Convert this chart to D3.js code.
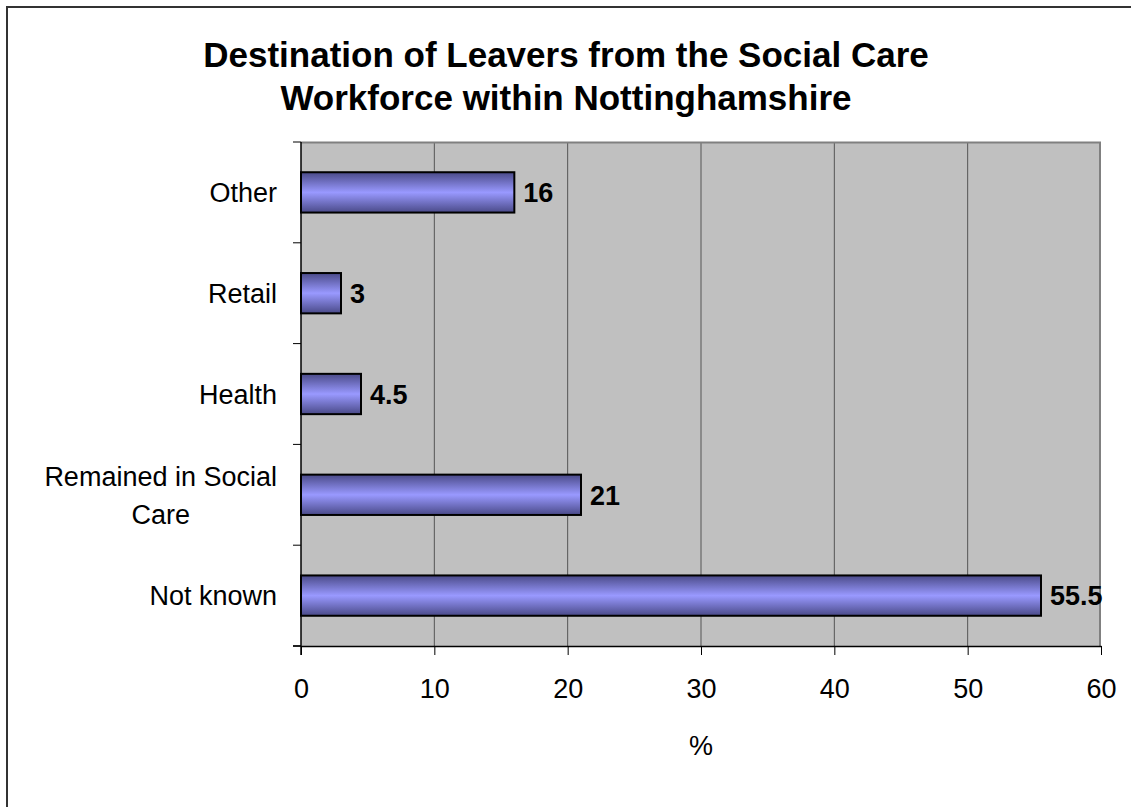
<!DOCTYPE html>
<html>
<head>
<meta charset="utf-8">
<script src="https://cdn.jsdelivr.net/npm/d3@7"></script>
<style>
  html, body { margin: 0; padding: 0; background: #fff; }
  svg { display: block; font-family: "Liberation Sans", Arial, sans-serif; }
</style>
</head>
<body>
<svg id="chart" width="1131" height="807"></svg>
<script>
// Leaver destinations, top to bottom as drawn
const categories = ["Other", "Retail", "Health", "Remained in Social Care", "Not known"];
const values = [16, 3, 4.5, 21, 55.5];
const xTicks = [0, 10, 20, 30, 40, 50, 60];
const titleLines = ["Destination of Leavers from the Social Care", "Workforce within Nottinghamshire"];
const xAxisTitle = "%";

const svg = d3.select("#chart");
const W = 1131, H = 807;
const FONT = 27;
const margin = { left: 301, top: 142 };
const plotW = 1101 - margin.left;
const plotH = 646 - margin.top;

// outer chart frame
svg.append("rect")
  .attr("x", 7).attr("y", 7)
  .attr("width", W + 10).attr("height", H + 10)
  .attr("fill", "#fff").attr("stroke", "#333").attr("stroke-width", 2);

// bar gradient: darker at top and bottom edges, light in the middle
const defs = svg.append("defs");
const grad = defs.append("linearGradient")
  .attr("id", "barFill").attr("x1", 0).attr("y1", 0).attr("x2", 0).attr("y2", 1);
[[0, "#4a4a88"], [0.5, "#9999ff"], [1, "#4a4a88"]].forEach(([o, c]) =>
  grad.append("stop").attr("offset", o).attr("stop-color", c));

const x = d3.scaleLinear().domain([0, 60]).range([0, plotW]);
const y = d3.scaleBand().domain(categories).range([0, plotH]).paddingInner(0.6).paddingOuter(0.3);
const yBand = d3.scaleBand().domain(categories).range([0, plotH]);

const g = svg.append("g").attr("transform", `translate(${margin.left},${margin.top})`);

// plot background
g.append("rect").attr("width", plotW).attr("height", plotH).attr("fill", "#c0c0c0");

// vertical gridlines
g.selectAll("line.grid").data(xTicks.slice(1, -1)).join("line")
  .attr("class", "grid")
  .attr("x1", d => x(d)).attr("x2", d => x(d))
  .attr("y1", 0).attr("y2", plotH)
  .attr("stroke", "#555").attr("stroke-width", 1);

// plot border (top/right)
g.append("path")
  .attr("d", `M0,0.5H${plotW - 1}V${plotH}`)
  .attr("fill", "none").attr("stroke", "#808080").attr("stroke-width", 2);

// bars
g.selectAll("rect.bar").data(values).join("rect")
  .attr("class", "bar")
  .attr("x", 0)
  .attr("y", (d, i) => y(categories[i]))
  .attr("width", d => x(d))
  .attr("height", y.bandwidth())
  .attr("fill", "url(#barFill)")
  .attr("stroke", "#000").attr("stroke-width", 2);

// value labels
g.selectAll("text.val").data(values).join("text")
  .attr("class", "val")
  .attr("x", d => x(d) + 9)
  .attr("y", (d, i) => y(categories[i]) + y.bandwidth() / 2)
  .attr("dy", "0.36em")
  .attr("font-size", FONT).attr("font-weight", "bold").attr("fill", "#000")
  .text(d => d);

// x axis
const xAxis = g.append("g").attr("transform", `translate(0,${plotH})`)
  .call(d3.axisBottom(x).tickValues(xTicks).tickSize(9).tickPadding(24).tickSizeOuter(0));
xAxis.select(".domain").attr("stroke", "#000").attr("stroke-width", 1.5);
xAxis.selectAll(".tick line").attr("stroke", "#000");
xAxis.selectAll(".tick text").attr("font-size", FONT).attr("fill", "#000")
  .attr("font-family", "Liberation Sans, Arial, sans-serif");
// axis extends slightly left past the y axis
g.append("line").attr("x1", -8).attr("x2", 0).attr("y1", plotH).attr("y2", plotH)
  .attr("stroke", "#000").attr("stroke-width", 1.5);

// y axis: ticks at band boundaries
g.append("line").attr("x1", 0).attr("x2", 0).attr("y1", 0).attr("y2", plotH + 9)
  .attr("stroke", "#000").attr("stroke-width", 1.5);
const bounds = categories.map(c => yBand(c)).concat([plotH]);
g.selectAll("line.ytick").data(bounds).join("line")
  .attr("class", "ytick")
  .attr("x1", -8).attr("x2", 0)
  .attr("y1", d => d).attr("y2", d => d)
  .attr("stroke", "#000").attr("stroke-width", 1);

// category labels (wrapped where long)
const wrapped = { "Remained in Social Care": ["Remained in Social", "Care"] };
categories.forEach(c => {
  const lines = wrapped[c] || [c];
  const cy = yBand(c) + yBand.bandwidth() / 2;
  const lh = 38;
  const t = g.append("text")
    .attr("text-anchor", "middle")
    .attr("font-size", FONT).attr("fill", "#000");
  lines.forEach((ln, i) => {
    t.append("tspan")
      .attr("x", 0)
      .attr("y", cy + (i - (lines.length - 1) / 2) * lh)
      .attr("dy", "0.36em")
      .text(ln);
  });
  // right-align the block to the axis with centered lines
  const bb = t.node().getBBox();
  t.attr("transform", `translate(${-24 - bb.width / 2},0)`);
});

// x axis title
svg.append("text")
  .attr("x", margin.left + plotW / 2).attr("y", 755)
  .attr("text-anchor", "middle").attr("font-size", FONT).attr("fill", "#000")
  .text(xAxisTitle);

// chart title
svg.append("text")
  .attr("text-anchor", "middle")
  .attr("font-size", 35).attr("font-weight", "bold").attr("fill", "#000")
  .selectAll("tspan").data(titleLines).join("tspan")
  .attr("x", 566).attr("y", (d, i) => 67 + i * 43)
  .text(d => d);
</script>
</body>
</html>
